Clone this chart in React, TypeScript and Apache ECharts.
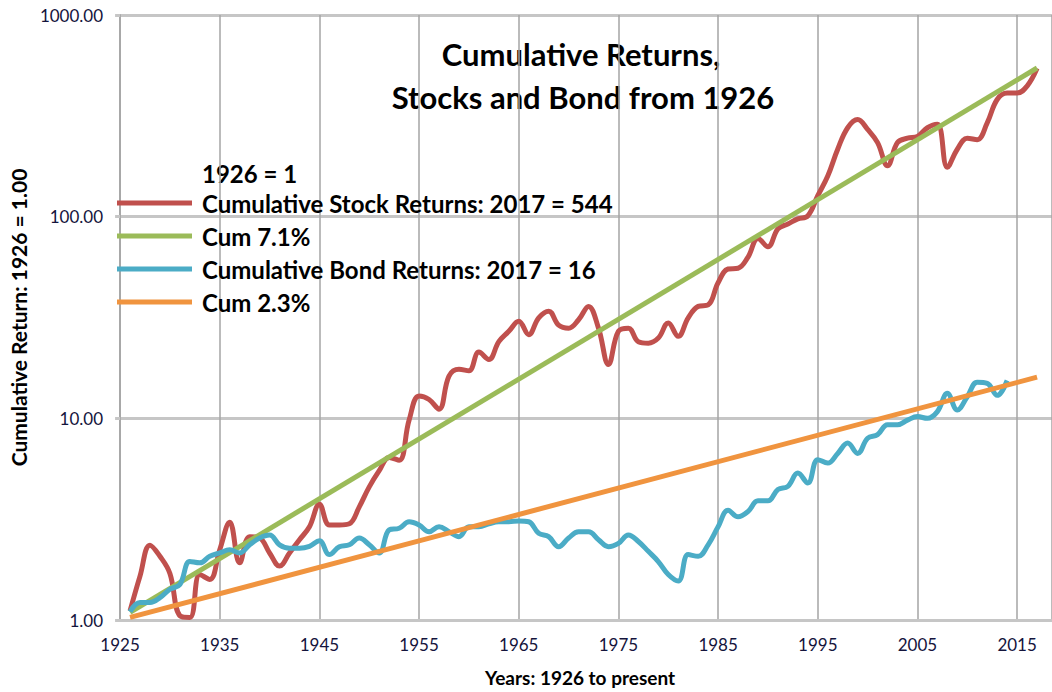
import React, { useEffect, useRef } from "react";
import * as echarts from "echarts";

const startYear = 1926;

// Cumulative stock returns, 1926..2017 (1926 = 1)
const stockValues = [
  1.11, 1.65, 2.35, 2.07, 1.7,
  1.05, 1.03, 1.68, 1.59, 2.23,
  3.05, 1.92, 2.59, 2.55, 2.15,
  1.85, 2.15, 2.5, 2.9, 3.75,
  2.96, 2.96, 3.0, 3.64, 4.57,
  5.5, 6.4, 6.2, 9.8, 12.9,
  12.4, 11.1, 16.2, 17.5, 17.2,
  21.3, 19.6, 24, 27, 30.3,
  26, 31.5, 34, 29, 28,
  30.8, 35.9, 28, 18.5, 27,
  28, 24, 23.6, 25, 29.7,
  25.5, 31.5, 35.9, 36.5, 47,
  55, 55.5, 63, 78, 71,
  87, 92, 97.5, 101, 127,
  159, 216, 276, 303, 271,
  233, 179, 233, 245, 250,
  276, 287, 176, 216, 245,
  241, 292, 381, 410, 410,
  444, 544,
];

// Cumulative bond returns, 1926..2014
const bondValues = [
  1.1, 1.22, 1.22, 1.29, 1.42,
  1.5, 1.95, 1.92, 2.07, 2.15,
  2.23, 2.15, 2.36, 2.55, 2.64,
  2.36, 2.27, 2.27, 2.32, 2.47,
  2.11, 2.31, 2.36, 2.55, 2.36,
  2.15, 2.8, 2.85, 3.07, 2.96,
  2.74, 2.9, 2.74, 2.59, 2.9,
  2.9, 3.0, 3.07, 3.07, 3.1,
  3.07, 2.69, 2.59, 2.31, 2.55,
  2.74, 2.74, 2.5, 2.31, 2.4,
  2.64, 2.45, 2.19, 1.95, 1.68,
  1.56, 2.11, 2.07, 2.36, 2.9,
  3.5, 3.25, 3.45, 3.9, 3.9,
  4.44, 4.6, 5.35, 4.78, 6.24,
  6.0, 6.7, 7.54, 6.7, 7.97,
  8.3, 9.3, 9.3, 9.8, 10.2,
  10.0, 10.8, 13.3, 11.0, 12.8,
  15.1, 14.9, 13.0, 15.4,
];

// Trend lines (endpoints)
const cum71Points: [number, number][] = [
  [1926, 1.09],
  [2017, 546],
];
const cum23Points: [number, number][] = [
  [1926, 1.03],
  [2017, 16],
];

const seriesNames = [
  "Cumulative Stock Returns: 2017 = 544",
  "Cum 7.1%",
  "Cumulative Bond Returns: 2017 = 16",
  "Cum 2.3%",
];
const seriesColors = ["#c0504d", "#9bbb59", "#4bacc6", "#f0943f"];

const FONT = "Lato, 'Open Sans', sans-serif";

export default function App() {
  const ref = useRef<HTMLDivElement>(null);

  useEffect(() => {
    if (!ref.current) return;
    const chart = echarts.init(ref.current, undefined, { renderer: "svg" });

    const toPairs = (vals: number[]) =>
      vals.map((v, i) => [startYear + i, v]);

    const lineSeries = (name: string, data: any[], color: string, smooth: boolean) => ({
      name,
      type: "line",
      data,
      smooth: smooth ? 0.4 : false,
      showSymbol: false,
      symbol: "none",
      clip: true,
      lineStyle: { color, width: 5 },
      itemStyle: { color },
      color,
    });

    chart.setOption({
      animation: false,
      backgroundColor: "#ffffff",
      grid: { left: 117, right: 0, top: 15, bottom: 68, containLabel: false },
      legend: {
        orient: "vertical",
        left: 117,
        top: 190,
        padding: 0,
        itemGap: 7,
        itemWidth: 75,
        itemHeight: 5,
        icon: "rect",
        selectedMode: false,
        data: seriesNames,
        textStyle: {
          fontFamily: FONT,
          fontWeight: "bold",
          fontSize: 24,
          lineHeight: 26,
          color: "#000",
          padding: [0, 0, 0, 5],
        },
      },
      graphic: [
        {
          type: "text",
          x: 581,
          y: 54,
          style: {
            text: "Cumulative Returns,",
            font: `bold 31px ${FONT}`,
            fill: "#000",
            textAlign: "center",
            verticalAlign: "middle",
          },
        },
        {
          type: "text",
          x: 583,
          y: 97,
          style: {
            text: "Stocks and Bond from 1926",
            font: `bold 31px ${FONT}`,
            fill: "#000",
            textAlign: "center",
            verticalAlign: "middle",
          },
        },
        {
          type: "text",
          x: 202,
          y: 173,
          style: {
            text: "1926 = 1",
            font: `bold 24px ${FONT}`,
            fill: "#000",
            textAlign: "left",
            verticalAlign: "middle",
          },
        },
      ],
      xAxis: {
        type: "value",
        min: 1925,
        max: 2018.5,
        interval: 10,
        name: "Years: 1926 to present",
        nameLocation: "middle",
        nameGap: 48,
        nameTextStyle: {
          fontFamily: FONT,
          fontWeight: "bold",
          fontSize: 19,
          color: "#000",
          padding: [0, 12, 0, 0],
        },
        axisLine: { show: true, lineStyle: { color: "#c6c6c6", width: 3 } },
        axisTick: { show: false },
        axisLabel: {
          showMaxLabel: false,
          margin: 16,
          fontFamily: FONT,
          fontSize: 17,
          color: "#14143c",
          formatter: (v: number) => String(v),
        },
        splitLine: { show: true, lineStyle: { color: "#a4a4a4", width: 1.5 } },
      },
      yAxis: {
        type: "log",
        logBase: 10,
        min: 1,
        max: 1000,
        name: "Cumulative Return: 1926 = 1.00",
        nameLocation: "middle",
        nameRotate: 90,
        nameGap: 88,
        nameTextStyle: {
          fontFamily: FONT,
          fontWeight: "bold",
          fontSize: 21,
          color: "#000",
        },
        axisLine: { show: true, lineStyle: { color: "#a8a8a8", width: 2 } },
        axisTick: { show: true, length: 5, lineStyle: { color: "#c6c6c6", width: 3 } },
        axisLabel: {
          margin: 17,
          fontFamily: FONT,
          fontSize: 17,
          color: "#14143c",
          formatter: (v: number) => v.toFixed(2),
        },
        splitLine: { show: true, lineStyle: { color: "#c6c6c6", width: 3 } },
      },
      series: [
        lineSeries(seriesNames[0], toPairs(stockValues), seriesColors[0], true),
        lineSeries(seriesNames[1], cum71Points, seriesColors[1], false),
        lineSeries(seriesNames[2], toPairs(bondValues), seriesColors[2], true),
        lineSeries(seriesNames[3], cum23Points, seriesColors[3], false),
      ],
    });

    return () => chart.dispose();
  }, []);

  return (
    <div
      ref={ref}
      style={{ position: "fixed", left: 0, top: 0, width: 1052, height: 692, background: "#fff" }}
    />
  );
}
